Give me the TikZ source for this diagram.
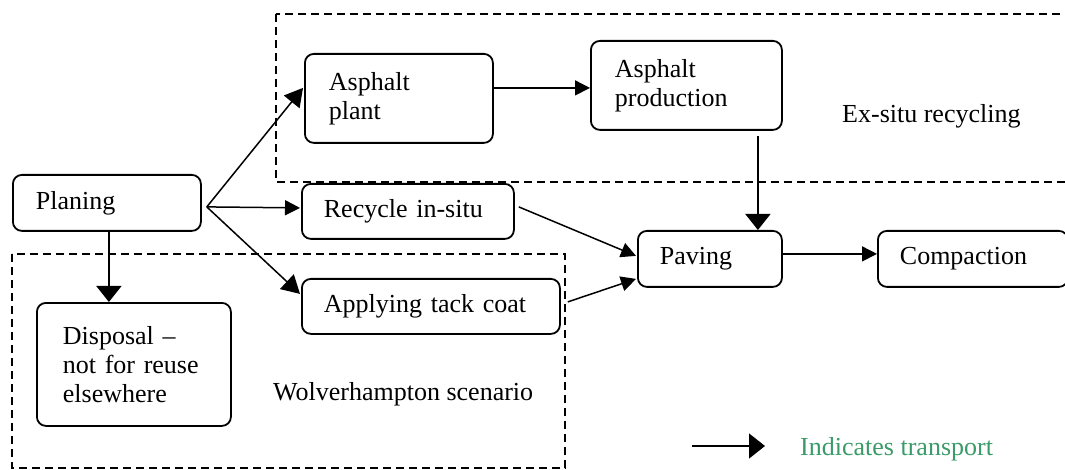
\documentclass[tikz,border=0pt]{standalone}
\usepackage{fontspec}
\setmainfont{Liberation Serif}
\usetikzlibrary{arrows.meta}
\definecolor{legendgreen}{RGB}{58,155,104}
\tikzset{
  stagebox/.style={draw, rounded corners=9pt, line width=1.8pt, anchor=north west,
    align=left, inner ysep=0pt, font=\fontsize{26}{29}\selectfont},
  zone/.style={draw, line width=1.5pt, dash pattern=on 8pt off 5pt},
  label/.style={anchor=base west, inner sep=0pt, font=\fontsize{26}{29}\selectfont},
  flow/.style={line width=1.5pt, -{Triangle[length=15pt,width=15pt]}},
  flowmid/.style={line width=1.5pt, -{Triangle[length=18pt,width=20pt]}},
  flowbig/.style={line width=1.5pt, -{Triangle[length=16pt,width=25pt]}},
}
\begin{document}
\begin{tikzpicture}[x=1pt,y=-1pt]
\useasboundingbox (0,0) rectangle (1065,470);

% scenario zones
\draw[zone] (276,14) rectangle (1085,182);
\draw[zone] (12,254) rectangle (565,468);
\node[label] (exsitu) at (842,123) {Ex-situ recycling};
\node[label] (wolv) at (273,400) {Wolverhampton scenario};

% process stages
\node[stagebox, inner xsep=23pt, text width=142pt, minimum height=56pt] (plan) at (12,174) {Planing};
\node[stagebox, inner xsep=26pt, text width=142pt, minimum height=123pt] (disp) at (36,302) {Disposal --\\not for reuse\\elsewhere};
\node[stagebox, inner xsep=24pt, text width=140pt, minimum height=89pt] (plant) at (304,53) {Asphalt\\plant};
\node[stagebox, inner xsep=24pt, text width=143pt, minimum height=89pt] (prod) at (590,40) {Asphalt\\production};
\node[stagebox, inner xsep=22pt, text width=168pt, minimum height=55pt] (recy) at (301,183) {Recycle in-situ};
\node[stagebox, inner xsep=22pt, text width=214pt, minimum height=55pt] (tack) at (301,278) {Applying tack coat};
\node[stagebox, inner xsep=22pt, text width=100pt, minimum height=56pt] (pave) at (637,230) {Paving};
\node[stagebox, inner xsep=22pt, text width=146pt, minimum height=56pt] (comp) at (877,230) {Compaction};

% connectors
\coordinate (fan) at ([shift={(5,4)}]plan.east);
\draw[flowmid] (fan) -- ([shift={(-1,-10.5)}]plant.west);
\draw[flow] (fan) -- ([shift={(-1,-3.5)}]recy.west);
\draw[flowmid] (fan) -- ([shift={(-1,-12.5)}]tack.west);
\coordinate (pd) at ([xshift=2pt]plan.south);
\draw[flowbig] (pd) -- (pd |- disp.north);
\coordinate (pp) at ([shift={(0,-10.5)}]plant.east);
\draw[flow] (pp) -- (pp -| prod.west);
\coordinate (pv) at ([shift={(71.5,5)}]prod.south);
\draw[flowbig] (pv) -- (pv |- pave.north);
\draw[flow] ([shift={(4,-4.5)}]recy.east) -- ([shift={(-1,-3)}]pave.west);
\draw[flow] ([shift={(7,-4.5)}]tack.east) -- ([shift={(-1,20)}]pave.west);
\coordinate (pc) at ([shift={(0,-5)}]pave.east);
\draw[flow] (pc) -- (pc -| comp.west);

% legend
\coordinate (lgs) at (692,446);
\coordinate (lge) at (765,446);
\draw[flowbig] (lgs) -- (lge);
\node[label, text=legendgreen] (lgt) at (800,455) {Indicates transport};
\end{tikzpicture}
\end{document}
